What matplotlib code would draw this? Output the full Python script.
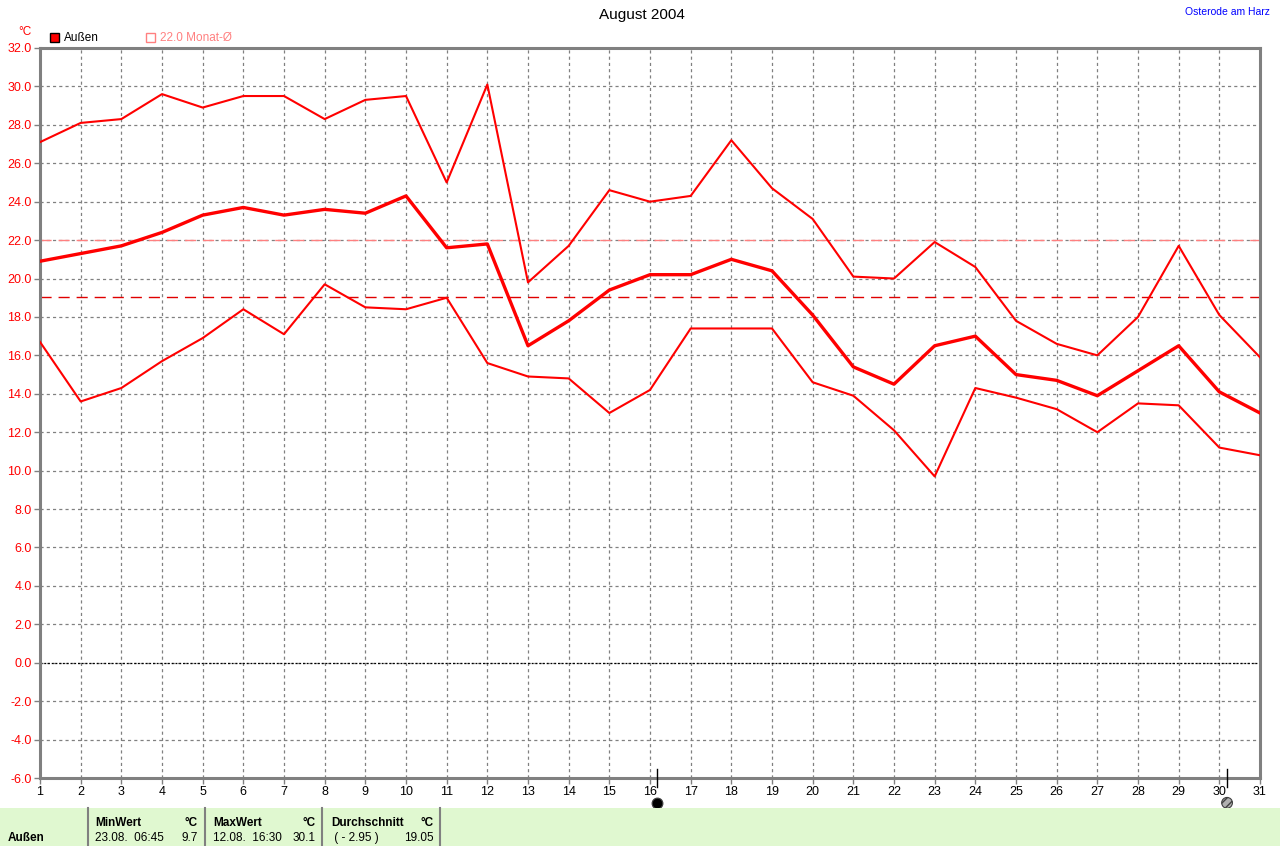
import matplotlib
matplotlib.use("Agg")
import matplotlib.pyplot as plt
import matplotlib.transforms as mtransforms
from matplotlib.patches import Rectangle
import numpy as np

plt.rcParams['font.family'] = ['Liberation Sans', 'DejaVu Sans']

# ---- data ----
days = list(range(1, 32))
t_max = [27.1, 28.1, 28.3, 29.6, 28.9, 29.5, 29.5, 28.3, 29.3, 29.5,
         25.0, 30.1, 19.8, 21.7, 24.6, 24.0, 24.3, 27.2, 24.7, 23.1,
         20.1, 20.0, 21.9, 20.6, 17.8, 16.6, 16.0, 18.0, 21.7, 18.1, 15.9]
t_mean = [20.9, 21.3, 21.7, 22.4, 23.3, 23.7, 23.3, 23.6, 23.4, 24.3,
          21.6, 21.8, 16.5, 17.8, 19.4, 20.2, 20.2, 21.0, 20.4, 18.1,
          15.4, 14.5, 16.5, 17.0, 15.0, 14.7, 13.9, 15.2, 16.5, 14.1, 13.0]
t_min = [16.7, 13.6, 14.3, 15.7, 16.9, 18.4, 17.1, 19.7, 18.5, 18.4,
         19.0, 15.6, 14.9, 14.8, 13.0, 14.2, 17.4, 17.4, 17.4, 14.6,
         13.9, 12.1, 9.7, 14.3, 13.8, 13.2, 12.0, 13.5, 13.4, 11.2, 10.8]
month_avg = 22.0       # long-term monthly mean (legend)
period_avg = 19.05     # Durchschnitt
new_moon_day = 16.17
full_moon_day = 30.19

y_ticks = np.arange(-6, 33, 2)

W, H = 1280, 846
fig = plt.figure(figsize=(W / 100, H / 100), dpi=100)
ax = fig.add_axes([40 / W, (H - 778) / H, 1220 / W, 730 / H])

red = '#ff0000'
grey = '#808080'

# reference lines
ax.axhline(month_avg, color='#ff8080', lw=1, dashes=(8, 5), zorder=2)
ax.axhline(period_avg, color='#e00000', lw=1, dashes=(8, 5), zorder=2)
ax.axhline(0, color='black', lw=0.9, dashes=(1.5, 1.5), zorder=2)

# temperature curves
ax.plot(days, t_max, color=red, lw=1.5, zorder=3)
ax.plot(days, t_mean, color=red, lw=2.4, zorder=3)
ax.plot(days, t_min, color=red, lw=1.5, zorder=3)

ax.set_xlim(1, 31)
ax.set_ylim(-6, 32)
ax.set_xticks(days)
ax.set_yticks(y_ticks)
ax.set_yticklabels([f"{v:.1f}" for v in y_ticks], color=red, fontsize=9)
ax.set_xticklabels([str(d) for d in days], fontsize=9)
ax.tick_params(length=4, width=1, color=grey, pad=2)
ax.grid(True, color=grey, lw=0.9, dashes=(2.5, 2.5))
for side in ax.spines.values():
    side.set_color(grey)
    side.set_linewidth(2.2)

# moon phase markers under the axis
trans = mtransforms.blended_transform_factory(ax.transData, ax.transAxes)
for d, fc in [(new_moon_day, 'black'), (full_moon_day, '#b0b0b0')]:
    ax.plot([d, d], [-0.012, 0.012], color='black', lw=1, transform=trans,
            clip_on=False, zorder=5)
    ax.scatter([d], [-0.034], s=60, marker='o', facecolor=fc,
               edgecolor='#404040', lw=0.8, transform=trans, clip_on=False,
               hatch='////' if fc != 'black' else None, zorder=5)

# header texts
fig.text(642 / W, 1 - 15 / H, "August 2004", ha='center', va='center', fontsize=11)
fig.text(1270 / W, 1 - 12 / H, "Osterode am Harz", ha='right', va='center',
         fontsize=7.5, color='#0000ff')
fig.text(25 / W, 1 - 32 / H, "°C", ha='center', va='center', fontsize=8.5, color=red)

# legend
fig.patches.append(Rectangle((50 / W, 1 - 42 / H), 9 / W, 9 / H, transform=fig.transFigure,
                             facecolor=red, edgecolor='black', lw=1))
fig.text(64 / W, 1 - 38 / H, "Außen", va='center', fontsize=8.5)
fig.patches.append(Rectangle((146 / W, 1 - 42 / H), 9 / W, 9 / H, transform=fig.transFigure,
                             facecolor='none', edgecolor='#ff8080', lw=1))
fig.text(160 / W, 1 - 38 / H, "22.0 Monat-Ø", va='center', fontsize=8.5, color='#ff8080')

# statistics panel at the bottom
fig.patches.append(Rectangle((0, 0), 1, 38 / H, transform=fig.transFigure,
                             facecolor='#e0f8d0', edgecolor='none'))
for xs in [88, 205, 322, 440]:
    fig.lines.append(plt.Line2D([xs / W, xs / W], [0, 38 / H], transform=fig.transFigure,
                                color=grey, lw=1.5))
row1 = 1 - 823 / H
row2 = 1 - 838 / H
fig.text(8 / W, row2, "Außen", va='center', fontsize=8.5, weight='bold')
cols = [(95, 198, "MinWert", "23.08.  06:45", "9.7"),
        (213, 316, "MaxWert", "12.08.  16:30", "30.1"),
        (331, 434, "Durchschnitt", " ( - 2.95 )", "19.05")]
for x0, x1, head, sub, val in cols:
    fig.text(x0 / W, row1, head, va='center', fontsize=8.5, weight='bold')
    fig.text(x1 / W, row1, "°C", va='center', ha='right', fontsize=8.5, weight='bold')
    fig.text(x0 / W, row2, sub, va='center', fontsize=8.5)
    fig.text(x1 / W, row2, val, va='center', ha='right', fontsize=8.5)

fig.savefig("out.png", dpi=100)
